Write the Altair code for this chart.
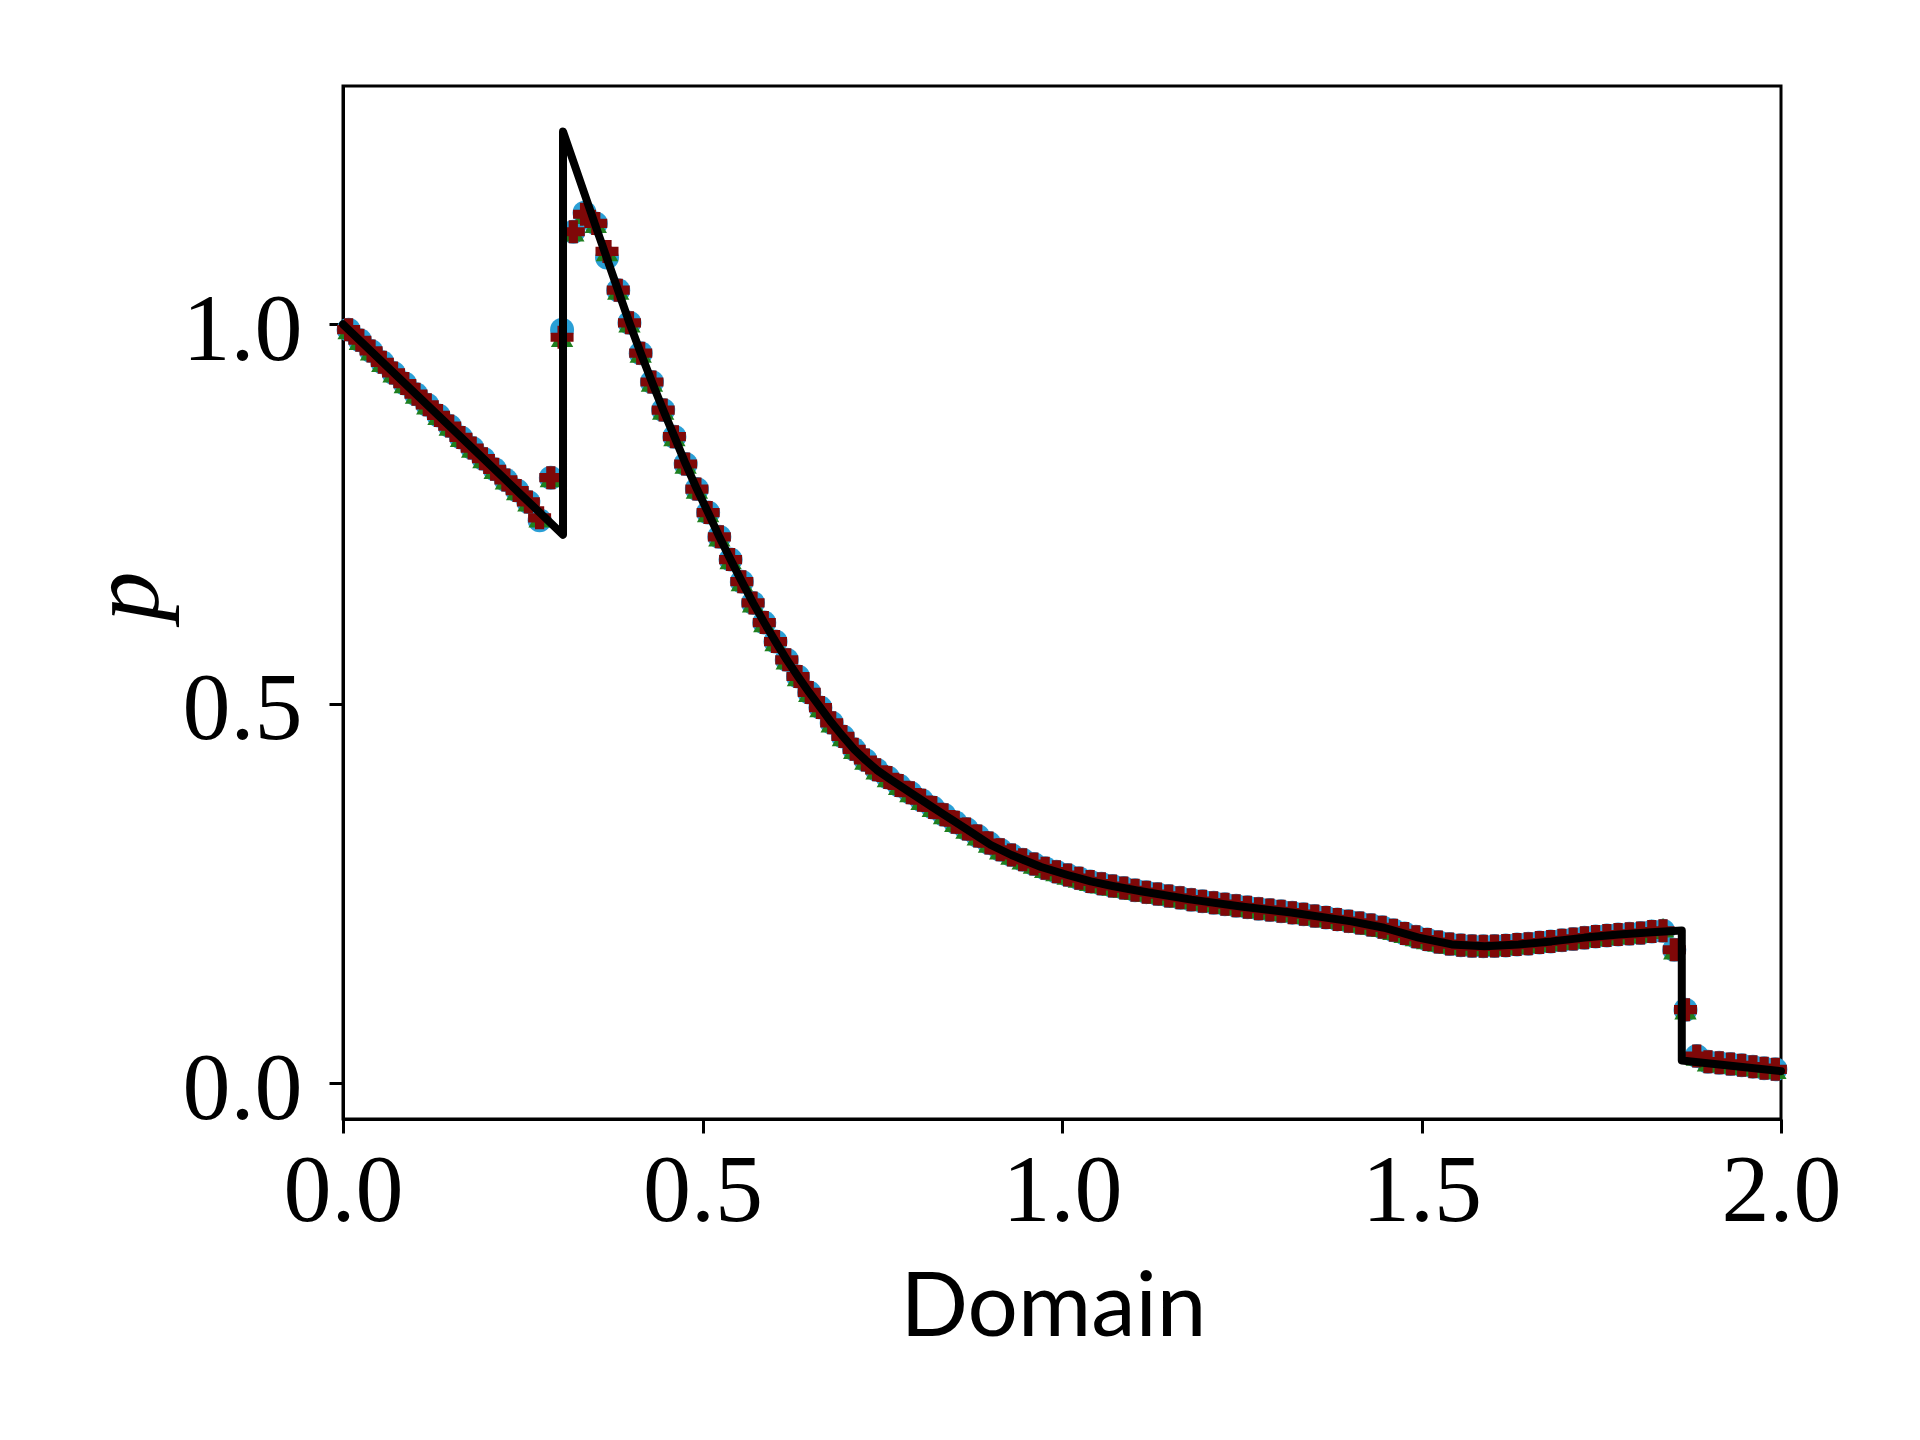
import altair as alt
import pandas as pd

# ---------------- data ----------------
N_CELLS = 128
DX = 2.0 / N_CELLS
cell_x = [(i + 0.5) * DX for i in range(N_CELLS)]

# numerical pressure (three schemes, nearly identical)
p_red = [
    0.993, 0.979, 0.965, 0.950, 0.936, 0.922, 0.908, 0.894, 0.880, 0.866,
    0.851, 0.837, 0.823, 0.809, 0.795, 0.781, 0.766, 0.745, 0.798, 0.983,
    1.122, 1.145, 1.133, 1.096, 1.045, 1.002, 0.962, 0.924, 0.887, 0.852,
    0.816, 0.783, 0.752, 0.720, 0.690, 0.661, 0.633, 0.607, 0.582, 0.558,
    0.536, 0.515, 0.495, 0.475, 0.457, 0.440, 0.426, 0.413, 0.403, 0.3925,
    0.383, 0.373, 0.3635, 0.354, 0.344, 0.335, 0.326, 0.3165, 0.3077, 0.3008,
    0.2945, 0.289, 0.2833, 0.2789, 0.2745, 0.2703, 0.266, 0.263, 0.260, 0.2573,
    0.2544, 0.2519, 0.2494, 0.2469, 0.2445, 0.242, 0.240, 0.238, 0.236, 0.234,
    0.232, 0.230, 0.2284, 0.2266, 0.2249, 0.2228, 0.2206, 0.2184, 0.216, 0.2137,
    0.2113, 0.2085, 0.2055, 0.2017, 0.1975, 0.1932, 0.1895, 0.1862, 0.1835, 0.1818,
    0.1808, 0.1805, 0.1808, 0.1815, 0.1828, 0.1840, 0.1855, 0.1869, 0.1885, 0.1902,
    0.1919, 0.1933, 0.1947, 0.1960, 0.1970, 0.1980, 0.2000, 0.2010, 0.176, 0.097,
    0.036, 0.0285, 0.0270, 0.0255, 0.0237, 0.0220, 0.0200, 0.0185,
]
p_blue = list(p_red)
p_blue[17] = 0.742
p_blue[19] = 0.993
p_blue[21] = 1.147
p_blue[23] = 1.088
p_green = list(p_red)
p_green[116] = 0.203
p_green[117] = 0.205

# exact solution (vertices)
exact_x = [
    0.0, 0.306, 0.306, 0.353, 0.3984, 0.4141, 0.4297, 0.4453, 0.4609, 0.4766,
    0.4922, 0.5078, 0.5234, 0.5391, 0.5547, 0.5703, 0.5859, 0.6016, 0.6172, 0.6328,
    0.6484, 0.6641, 0.6797, 0.6953, 0.7109, 0.7266, 0.7422, 0.762, 0.7891, 0.8203,
    0.831, 0.8672, 0.901, 0.9297, 0.971, 1.0078, 1.040, 1.0703, 1.110, 1.180,
    1.249, 1.319, 1.4025, 1.448, 1.496, 1.542, 1.588, 1.635, 1.681, 1.727,
    1.774, 1.820, 1.862, 1.862, 2.0,
]
exact_p = [
    1.0, 0.7227, 1.254, 1.125, 1.002, 0.962, 0.924, 0.887, 0.852, 0.816,
    0.783, 0.752, 0.720, 0.690, 0.661, 0.633, 0.607, 0.582, 0.558, 0.536,
    0.515, 0.495, 0.475, 0.457, 0.440, 0.426, 0.413, 0.400, 0.383, 0.3635,
    0.357, 0.335, 0.314, 0.3008, 0.285, 0.2745, 0.266, 0.260, 0.253, 0.242,
    0.233, 0.225, 0.2134, 0.205, 0.192, 0.183, 0.1805, 0.183, 0.187, 0.192,
    0.196, 0.199, 0.2015, 0.030, 0.016,
]

x_ticks = [0.0, 0.5, 1.0, 1.5, 2.0]
y_ticks = [0.0, 0.5, 1.0]

# ---------------- tables ----------------
df_blue = pd.DataFrame({"x": cell_x, "p": p_blue})
df_green = pd.DataFrame({"x": cell_x, "p": p_green})
df_red = pd.DataFrame({"x": cell_x, "p": p_red})
df_exact = pd.DataFrame({"x": exact_x, "p": exact_p, "idx": list(range(len(exact_x)))})

SERIF = "Liberation Serif"
SANS = "Lato"

x_enc = alt.X(
    "x:Q",
    scale=alt.Scale(domain=[0, 2], nice=False, zero=False),
    axis=alt.Axis(
        values=x_ticks, format=".1f", title="Domain",
        labelFont=SERIF, labelFontSize=96, labelPadding=11, labelFlush=False,
        labelOverlap=False, labelColor="black",
        tickSize=14, tickWidth=3, tickColor="black",
        domainWidth=3, domainColor="black", grid=False,
        titleFont=SANS, titleFontSize=89, titleFontWeight="normal", titleColor="black",
        titleX=710, titleY=216, titleBaseline="alphabetic", titleAlign="center",
    ),
)
y_enc = alt.Y(
    "p:Q",
    scale=alt.Scale(domain=[-0.047, 1.314], nice=False, zero=False),
    axis=alt.Axis(
        values=y_ticks, format=".1f", title="p",
        labelFont=SERIF, labelFontSize=96, labelPadding=27, labelOffset=6,
        labelOverlap=False, labelColor="black",
        tickSize=14, tickWidth=3, tickColor="black",
        domainWidth=3, domainColor="black", grid=False,
        titleFont=SERIF, titleFontStyle="italic", titleFontSize=100,
        titleFontWeight="normal", titleColor="black",
        titleX=-186, titleY=510, titleAngle=270, titleAlign="center",
        titleBaseline="alphabetic",
    ),
)

blue = alt.Chart(df_blue).mark_point(
    shape="circle", filled=True, size=576, color="#2a9fd6", opacity=1
).encode(x=x_enc, y=y_enc)

green = alt.Chart(df_green).mark_point(
    shape="triangle-up", filled=True, size=500, color="#1f7f1f", opacity=1
).encode(x="x:Q", y="p:Q")

red = alt.Chart(df_red).mark_point(
    shape="cross", filled=True, size=529, color="#7f0808", opacity=1
).encode(x="x:Q", y="p:Q")

exact = alt.Chart(df_exact).mark_line(
    color="black", strokeWidth=8, strokeJoin="round", strokeCap="round"
).encode(x="x:Q", y="p:Q", order=alt.Order("idx:Q"))

chart = (
    alt.layer(blue, green, red, exact)
    .properties(
        width=1438,
        height=1033,
        autosize=alt.AutoSizeParams(type="none"),
        padding={"left": 335, "top": 78, "right": 100, "bottom": 300},
        background="white",
    )
    .configure_view(stroke="black", strokeWidth=3)
)

chart.save("out.html", embed_options={"renderer": "svg", "actions": False})
